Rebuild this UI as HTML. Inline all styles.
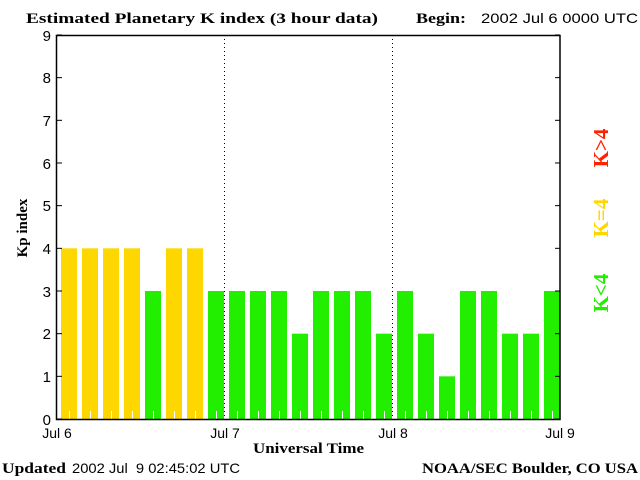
<!DOCTYPE html>
<html><head><style>body{margin:0;background:#fff}</style></head><body>
<svg width="640" height="480" xmlns="http://www.w3.org/2000/svg" style="display:block">
<rect width="640" height="480" fill="#fff"/>
<g font-family="Liberation Serif, serif" font-weight="bold" font-size="15" fill="#000">
<text x="26" y="23" textLength="352" lengthAdjust="spacingAndGlyphs">Estimated Planetary K index (3 hour data)</text>
<text x="416" y="23" textLength="50" lengthAdjust="spacingAndGlyphs">Begin:</text>
<text x="2" y="473" textLength="64" lengthAdjust="spacingAndGlyphs">Updated</text>
<text x="422" y="473" textLength="216" lengthAdjust="spacingAndGlyphs">NOAA/SEC Boulder, CO USA</text>
<text x="253" y="453" textLength="111" lengthAdjust="spacingAndGlyphs">Universal Time</text>
<text transform="translate(27,228) rotate(-90)" text-anchor="middle">Kp index</text>
</g>
<g font-family="Liberation Sans, sans-serif" font-size="14" fill="#000">
<text x="481" y="23" textLength="157" lengthAdjust="spacingAndGlyphs">2002 Jul 6 0000 UTC</text>
<text x="72" y="473" textLength="168" lengthAdjust="spacingAndGlyphs">2002 Jul&#160; 9 02:45:02 UTC</text>
<g text-anchor="middle"><text x="57" y="438">Jul 6</text><text x="225" y="438">Jul 7</text><text x="393" y="438">Jul 8</text><text x="560" y="438">Jul 9</text></g>
<g text-anchor="end" font-size="15">
<text x="51" y="425">0</text><text x="51" y="382">1</text><text x="51" y="339">2</text><text x="51" y="297">3</text><text x="51" y="254">4</text><text x="51" y="211">5</text><text x="51" y="169">6</text><text x="51" y="126">7</text><text x="51" y="83">8</text><text x="51" y="41">9</text>
</g></g>
<g id="bars"></g>
<line x1="224.5" y1="35" x2="224.5" y2="419" stroke="#000" stroke-dasharray="1,3"/>
<line x1="392.5" y1="35" x2="392.5" y2="419" stroke="#000" stroke-dasharray="1,3"/>
<rect x="56.5" y="35.5" width="503.5" height="384" fill="none" stroke="#000" stroke-width="1.5"/>
<g stroke="#000" id="ticks"></g>
<g font-family="Liberation Serif, serif" font-weight="bold" font-size="21">
<text transform="translate(608,148) rotate(-90)" text-anchor="middle" fill="#ff2200">K&gt;4</text>
<text transform="translate(608,218) rotate(-90)" text-anchor="middle" fill="#ffd700">K=4</text>
<text transform="translate(608,293) rotate(-90)" text-anchor="middle" fill="#22ee00">K&lt;4</text>
</g>
</svg>
<script>
var v=[4,4,4,4,3,4,4,3,3,3,3,2,3,3,3,2,3,2,1,3,3,2,2,3];
var s='',u=42.67;
v.forEach(function(k,i){var x=61+21*i,h=k*u;
s+='<rect x="'+x+'" y="'+(419-h)+'" width="16" height="'+h+'" fill="'+(k>=4?'#ffd700':'#22ee00')+'"/>';
s+='<line x1="'+(x+8.5)+'" y1="411" x2="'+(x+8.5)+'" y2="419" stroke="#fff"/>';});
document.getElementById('bars').innerHTML=s;
var t='';for(var k=0;k<=9;k++){var y=419-k*u;t+='<line x1="57" y1="'+y+'" x2="62" y2="'+y+'"/><line x1="555" y1="'+y+'" x2="560" y2="'+y+'"/>';}
document.getElementById('ticks').innerHTML=t;
</script>
</body></html>
